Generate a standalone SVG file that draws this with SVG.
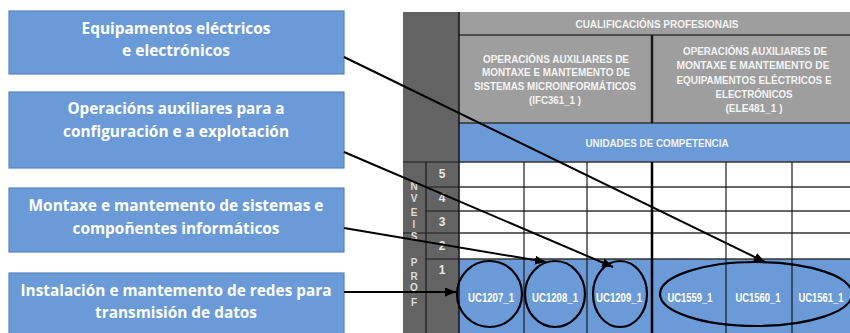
<svg xmlns="http://www.w3.org/2000/svg" width="850" height="333" viewBox="0 0 850 333">
<defs>
<style>
.box{fill:#6a9bd8;stroke:#5683c0;stroke-width:1.2}
.bt{font-family:"Open Sans","Liberation Sans",sans-serif;font-weight:bold;font-size:16px;fill:#ffffff;text-anchor:middle}
.ht{font-family:"Liberation Sans",Arial,sans-serif;font-weight:bold;font-size:11px;fill:#f4f4f4;text-anchor:middle}
.uc{font-family:"Liberation Sans",Arial,sans-serif;font-weight:bold;font-size:12px;fill:#ffffff;text-anchor:middle}
.num{font-family:"Liberation Sans",Arial,sans-serif;font-weight:bold;font-size:12px;fill:#e8e8e8;text-anchor:middle}
.let{font-family:"Liberation Sans",Arial,sans-serif;font-weight:bold;font-size:10px;fill:#dcdcdc;text-anchor:middle}
.gl{stroke:#1a1a1a;stroke-width:1.2;fill:none}
.gh{stroke:#333;stroke-width:1.6;fill:none}
.ov{fill:none;stroke:#000;stroke-width:2.2}
.conn{stroke:#000;stroke-width:2;fill:none;marker-end:url(#ah)}
</style>
<marker id="ah" markerUnits="userSpaceOnUse" markerWidth="12" markerHeight="10" refX="11" refY="4.5" orient="auto">
<path d="M0,0 L11,4.5 L0,9 z" fill="#000"/>
</marker>
</defs>

<g id="table">
<rect x="403" y="12" width="56" height="321" fill="#636363"/>
<rect x="459" y="12" width="391" height="23" fill="#9e9e9e"/>
<rect x="459" y="35" width="391" height="88" fill="#9e9e9e"/>
<rect x="459" y="123" width="391" height="39" fill="#6a9bd8"/>
<rect x="459" y="162" width="391" height="97" fill="#ffffff"/>
<rect x="459" y="259" width="391" height="74" fill="#6a9bd8"/>
<line class="gh" x1="459" y1="35" x2="850" y2="35"/>
<line class="gh" x1="459" y1="123" x2="850" y2="123"/>
<line x1="652" y1="35" x2="652" y2="123" stroke="#1a1a1a" stroke-width="2.5"/>
<line class="gh" x1="403" y1="162" x2="850" y2="162"/>
<line class="gh" x1="426" y1="187" x2="850" y2="187"/>
<line class="gh" x1="426" y1="211" x2="850" y2="211"/>
<line class="gh" x1="403" y1="233" x2="850" y2="233"/>
<line class="gh" x1="426" y1="259" x2="850" y2="259"/>
<line class="gl" x1="426" y1="162" x2="426" y2="333"/>
<line x1="459" y1="12" x2="459" y2="333" stroke="#1a1a1a" stroke-width="1.6"/>
<line class="gl" x1="524" y1="162" x2="524" y2="333"/>
<line class="gl" x1="587" y1="162" x2="587" y2="333"/>
<line x1="652" y1="162" x2="652" y2="333" stroke="#000" stroke-width="2.5"/>
<line class="gl" x1="726" y1="162" x2="726" y2="333"/>
<line class="gl" x1="792" y1="162" x2="792" y2="333"/>

<text class="ht" x="657" y="28" textLength="163" lengthAdjust="spacingAndGlyphs">CUALIFICACIÓNS PROFESIONAIS</text>
<text class="ht" x="556" y="63" textLength="146" lengthAdjust="spacingAndGlyphs">OPERACIÓNS AUXILIARES DE</text>
<text class="ht" x="556" y="76" textLength="148" lengthAdjust="spacingAndGlyphs">MONTAXE E MANTEMENTO DE</text>
<text class="ht" x="555" y="90" textLength="162" lengthAdjust="spacingAndGlyphs">SISTEMAS MICROINFORMÁTICOS</text>
<text class="ht" x="555" y="104" textLength="52" lengthAdjust="spacingAndGlyphs">(IFC361_1 )</text>
<text class="ht" x="755" y="55" textLength="144" lengthAdjust="spacingAndGlyphs">OPERACIÓNS AUXILIARES DE</text>
<text class="ht" x="753" y="69" textLength="153" lengthAdjust="spacingAndGlyphs">MONTAXE E MANTEMENTO DE</text>
<text class="ht" x="754" y="84" textLength="155" lengthAdjust="spacingAndGlyphs">EQUIPAMENTOS ELÉCTRICOS E</text>
<text class="ht" x="754" y="98" textLength="77" lengthAdjust="spacingAndGlyphs">ELECTRÓNICOS</text>
<text class="ht" x="754" y="112" textLength="57" lengthAdjust="spacingAndGlyphs">(ELE481_1 )</text>
<text class="ht" x="657" y="147" textLength="143" lengthAdjust="spacingAndGlyphs">UNIDADES DE COMPETENCIA</text>

<text class="num" x="442" y="178">5</text>
<text class="num" x="442" y="202">4</text>
<text class="num" x="442" y="226">3</text>
<text class="num" x="442" y="250">2</text>
<text class="num" x="442" y="274">1</text>

<text class="let" x="414" y="190">N</text>
<text class="let" x="414" y="202">V</text>
<text class="let" x="414" y="216">E</text>
<text class="let" x="414" y="228">I</text>
<text class="let" x="414" y="240">S</text>
<text class="let" x="414" y="266">P</text>
<text class="let" x="414" y="280">R</text>
<text class="let" x="414" y="291">O</text>
<text class="let" x="414" y="306">F</text>

<text class="uc" x="491" y="302" textLength="46" lengthAdjust="spacingAndGlyphs">UC1207_1</text>
<text class="uc" x="555" y="302" textLength="46" lengthAdjust="spacingAndGlyphs">UC1208_1</text>
<text class="uc" x="619" y="302" textLength="46" lengthAdjust="spacingAndGlyphs">UC1209_1</text>
<text class="uc" x="690" y="302" textLength="45" lengthAdjust="spacingAndGlyphs">UC1559_1</text>
<text class="uc" x="758" y="302" textLength="45" lengthAdjust="spacingAndGlyphs">UC1560_1</text>
<text class="uc" x="821" y="302" textLength="45" lengthAdjust="spacingAndGlyphs">UC1561_1</text>
</g>

<g id="ellipses">
<ellipse class="ov" cx="489.5" cy="294" rx="32.5" ry="33"/>
<ellipse class="ov" cx="555" cy="294" rx="30" ry="33"/>
<ellipse class="ov" cx="620" cy="294" rx="27" ry="33"/>
<ellipse class="ov" cx="756" cy="294" rx="96" ry="32"/>
</g>

<g id="box1">
<rect class="box" x="9" y="11" width="335" height="63"/>
<text class="bt" x="176" y="34" textLength="189" lengthAdjust="spacingAndGlyphs">Equipamentos eléctricos</text>
<text class="bt" x="176" y="56" textLength="108" lengthAdjust="spacingAndGlyphs">e electrónicos</text>
</g>
<g id="box2">
<rect class="box" x="9" y="92" width="335" height="76"/>
<text class="bt" x="176" y="114" textLength="217" lengthAdjust="spacingAndGlyphs">Operacións auxiliares para a</text>
<text class="bt" x="176" y="137" textLength="226" lengthAdjust="spacingAndGlyphs">configuración e a explotación</text>
</g>
<g id="box3">
<rect class="box" x="9" y="188" width="335" height="64"/>
<text class="bt" x="176" y="211" textLength="295" lengthAdjust="spacingAndGlyphs">Montaxe e mantemento de sistemas e</text>
<text class="bt" x="176" y="234" textLength="207" lengthAdjust="spacingAndGlyphs">compoñentes informáticos</text>
</g>
<g id="box4">
<rect class="box" x="9" y="273" width="335" height="70"/>
<text class="bt" x="176" y="296" textLength="311" lengthAdjust="spacingAndGlyphs">Instalación e mantemento de redes para</text>
<text class="bt" x="176" y="318" textLength="162" lengthAdjust="spacingAndGlyphs">transmisión de datos</text>
</g>

<g id="connectors">
<line class="conn" x1="344" y1="57" x2="765" y2="262"/>
<line class="conn" x1="344" y1="152" x2="613" y2="267"/>
<line class="conn" x1="344" y1="228" x2="546" y2="262"/>
<line class="conn" x1="344" y1="292" x2="456" y2="292"/>
</g>
</svg>
